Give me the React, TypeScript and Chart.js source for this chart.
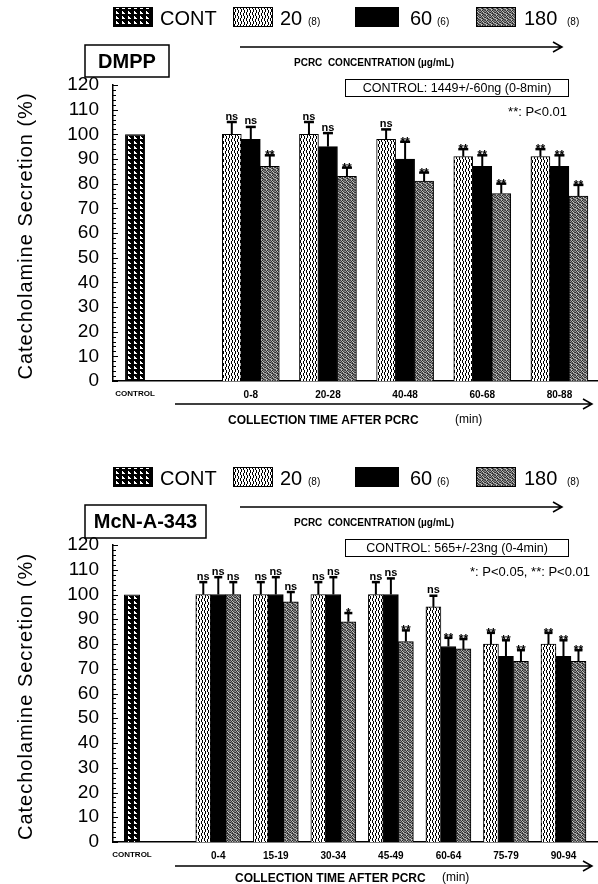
import React, { useEffect, useRef } from "react";
import { Chart, registerables } from "chart.js";
Chart.register(...registerables);

const FONT = "'Liberation Sans', Arial, Helvetica, sans-serif";

// ---------- Panel A : DMPP ----------
const dmppCategories = ["0-8", "20-28", "40-48", "60-68", "80-88"];
const dmppControl = 100;
const dmpp20 = [100, 100, 98, 91, 91];
const dmpp20Err = [5, 5, 4, 3, 3];
const dmpp60 = [98, 95, 90, 87, 87];
const dmpp60Err = [5, 5.5, 7, 4.5, 4.5];
const dmpp180 = [87, 83, 81, 76, 75];
const dmpp180Err = [4.5, 3.5, 3.5, 4, 4.5];
const dmppSig20 = ["ns", "ns", "ns", "**", "**"];
const dmppSig60 = ["ns", "ns", "**", "**", "**"];
const dmppSig180 = ["**", "**", "**", "**", "**"];

// ---------- Panel B : McN-A-343 ----------
const mcnCategories = ["0-4", "15-19", "30-34", "45-49", "60-64", "75-79", "90-94"];
const mcnControl = 100;
const mcn20 = [100, 100, 100, 100, 95, 80, 80];
const mcn20Err = [5, 5, 5, 5, 4.5, 4.5, 4.5];
const mcn60 = [100, 100, 100, 100, 79, 75, 75];
const mcn60Err = [7, 7, 7, 6.5, 3.5, 6.5, 6.5];
const mcn180 = [100, 97, 89, 81, 78, 73, 73];
const mcn180Err = [5, 4, 3.5, 4.5, 4, 4.5, 4.5];
const mcnSig20 = ["ns", "ns", "ns", "ns", "ns", "**", "**"];
const mcnSig60 = ["ns", "ns", "ns", "ns", "**", "**", "**"];
const mcnSig180 = ["ns", "ns", "*", "**", "**", "**", "**"];

// ---------- shared text ----------
const controlLabel = "CONTROL";
const legendLabels = ["CONT", "20", "60", "180"];
const legendN = ["", "(8)", "(6)", "(8)"];
const yMin = 0;
const yMax = 120;
const yStep = 10;
const yTitle = "Catecholamine Secretion (%)";
const concLabel = "PCRC  CONCENTRATION (\u00b5g/mL)";
const timeLabel = "COLLECTION TIME AFTER PCRC";
const timeUnit = "(min)";

type PanelCfg = {
  name: string;
  categories: string[];
  control: number;
  v20: number[]; e20: number[];
  v60: number[]; e60: number[];
  v180: number[]; e180: number[];
  s20: string[]; s60: string[]; s180: string[];
  controlText: string;
  pText: string;
  pRight: number;
  nameBox: [number, number, number, number];
  xMin: number; xMax: number;
  barW: number; ctrlW: number; capW: number;
  height: number; plotBottom: number;
  timeX: number; unitX: number; arrowY: number; titleY: number;
};

const panels: PanelCfg[] = [
  {
    name: "DMPP", categories: dmppCategories, control: dmppControl,
    v20: dmpp20, e20: dmpp20Err, v60: dmpp60, e60: dmpp60Err, v180: dmpp180, e180: dmpp180Err,
    s20: dmppSig20, s60: dmppSig60, s180: dmppSig180,
    controlText: "CONTROL: 1449+/-60ng (0-8min)", pText: "**: P<0.01", pRight: 567,
    nameBox: [85, 45, 84, 32],
    xMin: -0.286, xMax: 6.0, barW: 19, ctrlW: 20, capW: 10,
    height: 460, plotBottom: 381, timeX: 228, unitX: 455, arrowY: 404, titleY: 421,
  },
  {
    name: "McN-A-343", categories: mcnCategories, control: mcnControl,
    v20: mcn20, e20: mcn20Err, v60: mcn60, e60: mcn60Err, v180: mcn180, e180: mcn180Err,
    s20: mcnSig20, s60: mcnSig60, s180: mcnSig180,
    controlText: "CONTROL: 565+/-23ng (0-4min)", pText: "*: P<0.05, **: P<0.01", pRight: 590,
    nameBox: [85, 45, 121, 33],
    xMin: -0.33, xMax: 8.1, barW: 15, ctrlW: 16, capW: 8,
    height: 424, plotBottom: 382, timeX: 235, unitX: 442, arrowY: 406, titleY: 419,
  },
];

function makePattern(kind: string): CanvasPattern | string {
  const c = document.createElement("canvas");
  const g = c.getContext("2d");
  if (!g) return "#888";
  if (kind === "cont") {
    c.width = 6; c.height = 5;
    g.fillStyle = "#000"; g.fillRect(0, 0, 6, 5);
    g.fillStyle = "#fff";
    g.fillRect(2, 1, 1, 1); g.fillRect(2, 2, 2, 1); g.fillRect(2, 3, 3, 1);
  } else if (kind === "p20") {
    c.width = 6; c.height = 6;
    g.fillStyle = "#fff"; g.fillRect(0, 0, 6, 6);
    g.fillStyle = "#000";
    const rows = ["B...B.", "B..B..", "B..B..", ".B.B..", ".B..B.", ".B..B."];
    rows.forEach((r, y) => r.split("").forEach((ch, x) => { if (ch === "B") g.fillRect(x, y, 1, 1); }));
  } else {
    c.width = 5; c.height = 5;
    const m = [
      [60, 170, 40, 140, 90],
      [150, 50, 190, 70, 120],
      [40, 130, 80, 200, 60],
      [180, 90, 30, 110, 160],
      [100, 200, 140, 50, 80],
    ];
    m.forEach((row, y) => row.forEach((v, x) => { g.fillStyle = `rgb(${v},${v},${v})`; g.fillRect(x, y, 1, 1); }));
  }
  return g.createPattern(c, "repeat") || "#888";
}

function PanelChart({ p }: { p: PanelCfg }) {
  const ref = useRef<HTMLCanvasElement | null>(null);
  useEffect(() => {
    if (!ref.current) return;
    const patCont = makePattern("cont");
    const pat20 = makePattern("p20");
    const pat180 = makePattern("p180");
    const positions = p.categories.map((_, i) => i + 1.5);
    const tickPositions = [0, ...positions];
    const tickLabels = [controlLabel, ...p.categories];
    const series = [
      { values: p.v20, errs: p.e20, sig: p.s20 },
      { values: p.v60, errs: p.e60, sig: p.s60 },
      { values: p.v180, errs: p.e180, sig: p.s180 },
    ];

    const errPlugin = {
      id: "errbars",
      afterDatasetsDraw(chart: any) {
        const ctx = chart.ctx as CanvasRenderingContext2D;
        const ys = chart.scales.y;
        ctx.save();
        ctx.strokeStyle = "#000";
        ctx.fillStyle = "#000";
        series.forEach((s, si) => {
          const meta = chart.getDatasetMeta(si + 1);
          meta.data.forEach((el: any, i: number) => {
            const top = ys.getPixelForValue(s.values[i] + s.errs[i]);
            ctx.lineWidth = 2;
            ctx.beginPath();
            ctx.moveTo(el.x, el.y);
            ctx.lineTo(el.x, top);
            ctx.stroke();
            ctx.lineWidth = 2.5;
            ctx.beginPath();
            ctx.moveTo(el.x - p.capW / 2, top);
            ctx.lineTo(el.x + p.capW / 2, top);
            ctx.stroke();
            const lbl = s.sig[i];
            ctx.textAlign = "center";
            ctx.textBaseline = "alphabetic";
            if (lbl.indexOf("*") >= 0) {
              ctx.font = `bold 12px ${FONT}`;
              ctx.fillText(lbl, el.x, top + 4);
            } else {
              ctx.font = `bold 11px ${FONT}`;
              ctx.fillText(lbl, el.x, top - 2.5);
            }
          });
        });
        ctx.restore();
      },
    };

    const drawArrow = (ctx: CanvasRenderingContext2D, x1: number, x2: number, y: number) => {
      ctx.lineWidth = 1.5;
      ctx.beginPath();
      ctx.moveTo(x1, y);
      ctx.lineTo(x2, y);
      ctx.moveTo(x2 - 9, y - 5);
      ctx.lineTo(x2, y);
      ctx.lineTo(x2 - 9, y + 5);
      ctx.stroke();
    };

    const decorPlugin = {
      id: "decor",
      afterDraw(chart: any) {
        const ctx = chart.ctx as CanvasRenderingContext2D;
        const ys = chart.scales.y;
        const area = chart.chartArea;
        ctx.save();
        ctx.strokeStyle = "#000";
        ctx.fillStyle = "#000";
        // inward minor/major ticks on y axis
        ctx.lineWidth = 1;
        for (let v = yMin; v <= yMax; v += 2) {
          const yy = Math.round(ys.getPixelForValue(v)) + 0.5;
          const len = v % yStep === 0 ? 5 : 3;
          ctx.beginPath();
          ctx.moveTo(area.left, yy);
          ctx.lineTo(area.left + len, yy);
          ctx.stroke();
        }
        // y title
        ctx.save();
        ctx.translate(26, (area.top + area.bottom) / 2 + 3);
        ctx.rotate(-Math.PI / 2);
        ctx.font = `20px ${FONT}`;
        (ctx as any).letterSpacing = "1px";
        ctx.textAlign = "center";
        ctx.textBaseline = "middle";
        ctx.fillText(yTitle, 0, 0);
        (ctx as any).letterSpacing = "0px";
        ctx.restore();

        // legend
        const boxes = [
          { x: 113, w: 40, fill: patCont },
          { x: 233, w: 40, fill: pat20 },
          { x: 355, w: 44, fill: "#000" },
          { x: 476, w: 40, fill: pat180 },
        ];
        const textX = [160, 280, 410, 524];
        const nX = [0, 308, 437, 567];
        boxes.forEach((b, i) => {
          ctx.fillStyle = b.fill as any;
          ctx.fillRect(b.x, 7, b.w, 20);
          ctx.lineWidth = 1;
          ctx.strokeStyle = "#000";
          ctx.strokeRect(b.x + 0.5, 7.5, b.w - 1, 19);
          ctx.fillStyle = "#000";
          ctx.textAlign = "left";
          ctx.textBaseline = "alphabetic";
          ctx.font = `20px ${FONT}`;
          ctx.fillText(legendLabels[i], textX[i], 25);
          if (legendN[i]) {
            ctx.font = `10px ${FONT}`;
            ctx.fillText(legendN[i], nX[i], 25);
          }
        });
        // concentration arrow
        ctx.strokeStyle = "#000";
        drawArrow(ctx, 240, 562, 47);
        ctx.font = `bold 10px ${FONT}`;
        ctx.textAlign = "center";
        ctx.textBaseline = "middle";
        ctx.fillText(concLabel, 374, 63);

        // name box
        const [bx, by, bw, bh] = p.nameBox;
        ctx.lineWidth = 1.5;
        ctx.strokeRect(bx, by, bw, bh);
        ctx.font = `bold 20px ${FONT}`;
        ctx.textAlign = "center";
        ctx.textBaseline = "middle";
        ctx.fillText(p.name, bx + bw / 2, by + bh / 2 + 1);

        // control box
        ctx.lineWidth = 1;
        ctx.strokeRect(345.5, 79.5, 223, 17);
        ctx.font = `12.5px ${FONT}`;
        ctx.fillText(p.controlText, 457, 88.5);

        // p text
        ctx.font = `13px ${FONT}`;
        ctx.textAlign = "right";
        ctx.fillText(p.pText, p.pRight, 112);

        // time arrow and title
        drawArrow(ctx, 175, 592, p.arrowY);
        ctx.textAlign = "left";
        ctx.textBaseline = "middle";
        ctx.font = `bold 12px ${FONT}`;
        ctx.fillText(timeLabel, p.timeX, p.titleY);
        ctx.font = `12px ${FONT}`;
        ctx.fillText(timeUnit, p.unitX, p.titleY - 1);
        ctx.restore();
      },
    };

    const chart = new Chart(ref.current, {
      type: "bar",
      data: {
        datasets: [
          {
            label: legendLabels[0],
            data: [{ x: 0, y: p.control }],
            backgroundColor: patCont as any,
            borderColor: "#000",
            borderWidth: 1,
            grouped: false,
            maxBarThickness: p.ctrlW,
            barPercentage: 1,
          } as any,
          {
            label: legendLabels[1],
            data: positions.map((x, i) => ({ x, y: p.v20[i] })),
            backgroundColor: pat20 as any,
            borderColor: "#000",
            borderWidth: 1,
            barThickness: p.barW,
          },
          {
            label: legendLabels[2],
            data: positions.map((x, i) => ({ x, y: p.v60[i] })),
            backgroundColor: "#000",
            borderColor: "#000",
            borderWidth: 1,
            barThickness: p.barW,
          },
          {
            label: legendLabels[3],
            data: positions.map((x, i) => ({ x, y: p.v180[i] })),
            backgroundColor: pat180 as any,
            borderColor: "#000",
            borderWidth: 1,
            barThickness: p.barW,
          },
        ],
      },
      options: {
        responsive: false,
        animation: false,
        devicePixelRatio: 1,
        layout: { padding: { top: 85, left: 0, right: 0, bottom: 0 } },
        plugins: { legend: { display: false }, tooltip: { enabled: false }, title: { display: false } },
        scales: {
          x: {
            type: "linear",
            min: p.xMin,
            max: p.xMax,
            offset: false,
            grid: { display: false, drawTicks: false },
            border: { display: true, color: "#000", width: 1.5 },
            afterBuildTicks: (s: any) => { s.ticks = tickPositions.map((v) => ({ value: v })); },
            afterFit: (s: any) => { s.height = p.height - p.plotBottom; },
            ticks: {
              autoSkip: false,
              maxRotation: 0,
              minRotation: 0,
              color: "#000",
              padding: 8,
              font: (c: any) => ({ family: FONT, size: c.index === 0 ? 8 : 10, weight: "bold" }),
              callback: (_v: any, i: number) => tickLabels[i] ?? "",
            },
          } as any,
          y: {
            min: yMin,
            max: yMax,
            afterFit: (s: any) => { s.width = 113; },
            grid: { display: false, drawTicks: false },
            border: { display: true, color: "#000", width: 1.5 },
            ticks: { stepSize: yStep, autoSkip: false, color: "#000", padding: 14, font: { family: FONT, size: 19 } },
          },
        },
      },
      plugins: [errPlugin, decorPlugin],
    });
    return () => chart.destroy();
  }, [p]);
  return <canvas ref={ref} width={598} height={p.height} style={{ display: "block" }} />;
}

export default function App() {
  return (
    <div style={{ position: "absolute", left: 0, top: 0, width: 598, height: 884, background: "#fff", overflow: "hidden" }}>
      {panels.map((p) => (
        <PanelChart key={p.name} p={p} />
      ))}
    </div>
  );
}
